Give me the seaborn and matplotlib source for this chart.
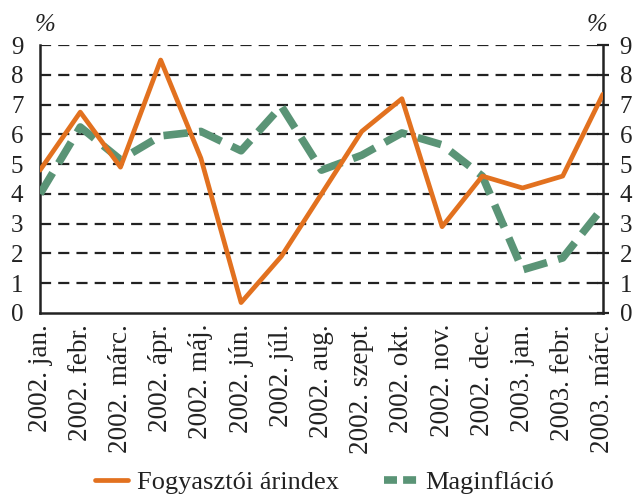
import matplotlib
matplotlib.use("Agg")
import matplotlib.pyplot as plt
import seaborn as sns
import pandas as pd
import numpy as np
from matplotlib.lines import Line2D

months = ["2002. jan.", "2002. febr.", "2002. márc.", "2002. ápr.", "2002. máj.",
          "2002. jún.", "2002. júl.", "2002. aug.", "2002. szept.", "2002. okt.",
          "2002. nov.", "2002. dec.", "2003. jan.", "2003. febr.", "2003. márc."]
cpi = [4.8, 6.75, 4.9, 8.5, 5.2, 0.35, 1.9, 4.0, 6.1, 7.2, 2.9, 4.6, 4.2, 4.6, 7.35]
core = [4.0, 6.25, 5.15, 5.95, 6.1, 5.45, 6.95, 4.8, 5.3, 6.05, 5.65, 4.6, 1.45, 1.85, 3.55]
yticks = list(range(0, 10))
series_names = ["Fogyasztói árindex", "Maginfláció"]

sns.set_theme(style="white")
plt.rcParams['font.family'] = ['Liberation Serif', 'DejaVu Serif']

df = pd.DataFrame({"i": np.arange(len(months)), "cpi": cpi, "core": core})

fig = plt.figure(figsize=(6.36, 4.96), dpi=100)
ax = fig.add_axes([0.063, 0.369, 0.885, 0.54])

orange = "#E2711F"
green = "#5A9476"
ink = "#222222"

for y in yticks[1:]:
    ax.axhline(y, color=ink, lw=1.6, dashes=(5, 3.2), zorder=1)

sns.lineplot(data=df, x="i", y="core", ax=ax, color=green, lw=5.5, zorder=3)
ax.lines[-1].set_dashes((3.2, 1.5))
sns.lineplot(data=df, x="i", y="cpi", ax=ax, color=orange, lw=3.4, zorder=4)

ax.set_xlim(0, len(months) - 1)
ax.set_ylim(0, 9)
ax.set_xticks(range(len(months)))
ax.set_xticklabels(months, rotation=90, fontsize=19.5)
ax.set_yticks(yticks)
ax.set_yticklabels([str(v) for v in yticks], fontsize=18)
ax.set_xlabel("")
ax.set_ylabel("")
ax.tick_params(axis="both", direction="inout", length=8, width=1.6, color=ink,
               labelcolor=ink)
ax.tick_params(axis="x", pad=4)
ax.tick_params(axis="y", pad=8, right=True, labelright=True)
for s in ["left", "right", "bottom"]:
    ax.spines[s].set_visible(True)
    ax.spines[s].set_color(ink)
    ax.spines[s].set_linewidth(1.8)
ax.spines["top"].set_visible(False)
ax.grid(False)

ax.text(0.008, 1.035, "%", transform=ax.transAxes, fontsize=18, style="italic",
        ha="center", va="bottom", color=ink)
ax.text(0.99, 1.035, "%", transform=ax.transAxes, fontsize=18, style="italic",
        ha="center", va="bottom", color=ink)

h1 = Line2D([], [], color=orange, lw=3.4)
h2 = Line2D([], [], color=green, lw=5.5, dashes=(1.7, 0.8))
fig.legend([h1, h2], series_names, loc="center left",
           bbox_to_anchor=(0.149, 0.028), ncol=2, frameon=False, fontsize=19,
           handlelength=1.25, columnspacing=1.7, handletextpad=0.34, borderpad=0,
           borderaxespad=0, labelcolor=ink)

fig.savefig("out.png", dpi=100)
